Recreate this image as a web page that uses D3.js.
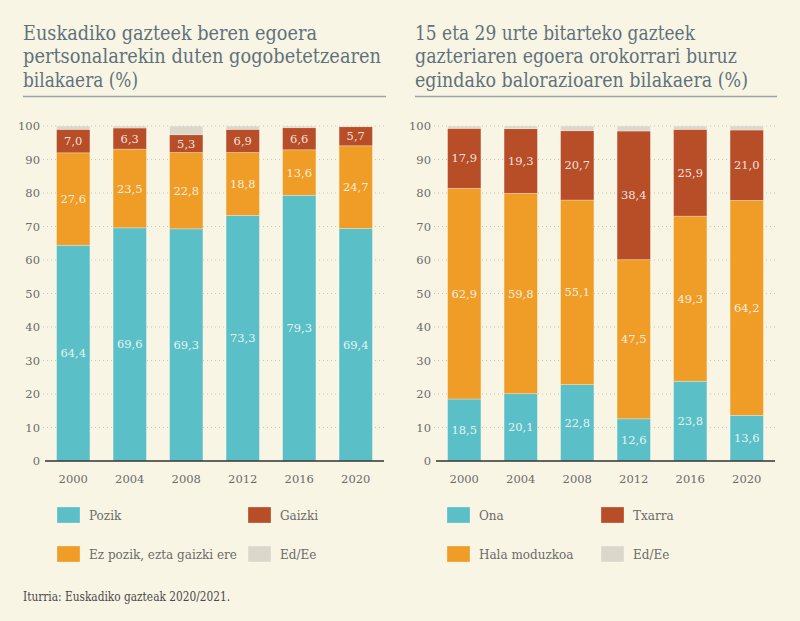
<!DOCTYPE html>
<html>
<head>
<meta charset="utf-8">
<script src="https://cdn.jsdelivr.net/npm/d3@7"></script>
<style>
  html, body { margin: 0; padding: 0; background: #f8f5e4; }
  svg { display: block; }
  text { font-family: "DejaVu Serif", "Liberation Serif", serif; }
</style>
</head>
<body>
<svg id="chart" width="800" height="621"></svg>
<script>
// ---------- DATA ----------
const years = ["2000", "2004", "2008", "2012", "2016", "2020"];
const yTicks = [0, 10, 20, 30, 40, 50, 60, 70, 80, 90, 100];

// Left chart
const leftTitle = ["Euskadiko gazteek beren egoera", "pertsonalarekin duten gogobetetzearen", "bilakaera (%)"];
const leftSeriesNames = ["Pozik", "Ez pozik, ezta gaizki ere", "Gaizki", "Ed/Ee"];
const pozik = [64.4, 69.6, 69.3, 73.3, 79.3, 69.4];
const ezPozik = [27.6, 23.5, 22.8, 18.8, 13.6, 24.7];
const gaizki = [7.0, 6.3, 5.3, 6.9, 6.6, 5.7];
const leftEdEe = [1.0, 0.6, 2.6, 1.0, 0.5, 0.2];

// Right chart
const rightTitle = ["15 eta 29 urte bitarteko gazteek", "gazteriaren egoera orokorrari buruz", "egindako balorazioaren bilakaera (%)"];
const rightSeriesNames = ["Ona", "Hala moduzkoa", "Txarra", "Ed/Ee"];
const ona = [18.5, 20.1, 22.8, 12.6, 23.8, 13.6];
const halaModuzkoa = [62.9, 59.8, 55.1, 47.5, 49.3, 64.2];
const txarra = [17.9, 19.3, 20.7, 38.4, 25.9, 21.0];
const rightEdEe = [0.7, 0.8, 1.4, 1.5, 1.0, 1.2];

const sourceText = "Iturria: Euskadiko gazteak 2020/2021.";

// ---------- STYLE ----------
const colors = ["#5bbfc7", "#f09d28", "#b84e28", "#dbd8cb"];
const titleColor = "#5f727c";
const tickColor = "#6b6b6b";

const svg = d3.select("#chart");
svg.append("rect").attr("width", 800).attr("height", 621).attr("fill", "#f8f5e4");

function fmt(v) { return d3.format(".1f")(v).replace(".", ","); }

function drawPanel(cfg) {
  const g = svg.append("g");
  // Title
  const titleSize = 19.5;
  cfg.title.forEach((line, i) => {
    const t = g.append("text")
      .attr("x", cfg.titleX).attr("y", 40 + i * 23.3)
      .attr("fill", titleColor)
      .style("font-size", titleSize + "px")
      .style("font-weight", 300)
      .text(line);
    const w = t.node().getComputedTextLength();
    if (cfg.titleWidths[i] && w > 0) {
      t.attr("textLength", cfg.titleWidths[i]).attr("lengthAdjust", "spacingAndGlyphs");
    }
  });
  g.append("line")
    .attr("x1", cfg.titleX).attr("x2", cfg.ruleEnd)
    .attr("y1", 96.5).attr("y2", 96.5)
    .attr("stroke", "#9aa3a6").attr("stroke-width", 1.3);

  const x = d3.scaleBand().domain(years).range([cfg.x0, cfg.x1])
    .paddingInner(0.41).paddingOuter(0.205);
  const y = d3.scaleLinear().domain([0, 100]).range([461, 126]);

  // Grid
  g.append("g").selectAll("line").data(yTicks.filter(d => d > 0)).join("line")
    .attr("x1", cfg.x0 - 2).attr("x2", cfg.x1)
    .attr("y1", d => y(d)).attr("y2", d => y(d))
    .attr("stroke", "#c9c5b5").attr("stroke-width", 1)
    .attr("stroke-dasharray", "1,3");

  // Y axis labels
  const yAxis = d3.axisLeft(y).tickValues(yTicks).tickSize(0).tickPadding(0).tickFormat(d3.format("d"));
  const ya = g.append("g").attr("transform", `translate(${cfg.yLabelX},0)`).call(yAxis);
  ya.select(".domain").remove();
  ya.selectAll("text").attr("fill", tickColor).style("font-size", "11.5px")
    .style("font-family", "'DejaVu Serif', serif").style("font-weight", 300);

  // Stack
  const table = years.map((yr, i) => {
    const o = { year: yr };
    cfg.names.forEach((n, k) => o[n] = cfg.series[k][i]);
    return o;
  });
  const stack = d3.stack().keys(cfg.names)(table);

  const layers = g.append("g").selectAll("g").data(stack).join("g")
    .attr("fill", (d, k) => colors[k]);
  layers.selectAll("rect").data(d => d).join("rect")
    .attr("x", d => x(d.data.year))
    .attr("width", x.bandwidth())
    .attr("y", d => y(d[1]))
    .attr("height", d => Math.max(0, y(d[0]) - y(d[1])))
    .attr("stroke", "rgba(255,255,255,0.35)").attr("stroke-width", 0.8);

  // Value labels
  stack.forEach((layer, k) => {
    if (k === 3) return;
    g.append("g").selectAll("text").data(layer).join("text")
      .attr("x", d => x(d.data.year) + x.bandwidth() / 2)
      .attr("y", d => y((d[0] + d[1]) / 2))
      .attr("dy", "0.35em")
      .attr("text-anchor", "middle")
      .attr("fill", "rgba(255,255,255,0.85)")
      .style("font-size", "11.5px")
      .style("font-weight", 300)
      .text(d => fmt(d[1] - d[0]));
  });

  // Baseline axis
  g.append("line").attr("x1", cfg.x0).attr("x2", cfg.x1)
    .attr("y1", y(0)).attr("y2", y(0))
    .attr("stroke", "#333").attr("stroke-width", 1.4);

  // X axis labels
  const xAxis = d3.axisBottom(x).tickSize(0).tickPadding(0);
  const xa = g.append("g").attr("transform", `translate(0,${y(0)})`).call(xAxis);
  xa.select(".domain").remove();
  xa.selectAll("text").attr("y", 22).attr("dy", 0).attr("fill", tickColor)
    .style("font-size", "11.5px").style("font-family", "'DejaVu Serif', serif").style("font-weight", 300);

  // Legend
  const order = [0, 2, 1, 3];
  order.forEach((k, i) => {
    const lx = cfg.legendX[i % 2];
    const ly = i < 2 ? 507 : 546;
    g.append("rect").attr("x", lx).attr("y", ly).attr("width", 23).attr("height", 16)
      .attr("fill", colors[k]).attr("stroke", "rgba(255,255,255,0.35)").attr("stroke-width", 0.8);
    g.append("text").attr("x", lx + 32).attr("y", ly + 12.5)
      .attr("fill", tickColor).style("font-size", "12px").style("font-weight", 300)
      .text(cfg.names[k]);
  });
}

drawPanel({
  title: leftTitle, titleX: 23, ruleEnd: 386, titleWidths: [294, 358, 115],
  x0: 45, x1: 384, yLabelX: 40,
  names: leftSeriesNames, series: [pozik, ezPozik, gaizki, leftEdEe],
  legendX: [57, 248]
});

drawPanel({
  title: rightTitle, titleX: 415, ruleEnd: 777, titleWidths: [280, 322, 333],
  x0: 436, x1: 775, yLabelX: 431,
  names: rightSeriesNames, series: [ona, halaModuzkoa, txarra, rightEdEe],
  legendX: [447, 601]
});

svg.append("text").attr("x", 23).attr("y", 601)
  .attr("fill", "#4a4a4a").style("font-size", "12px").style("font-weight", 500)
  .attr("textLength", 207).attr("lengthAdjust", "spacingAndGlyphs")
  .text(sourceText);
</script>
</body>
</html>
